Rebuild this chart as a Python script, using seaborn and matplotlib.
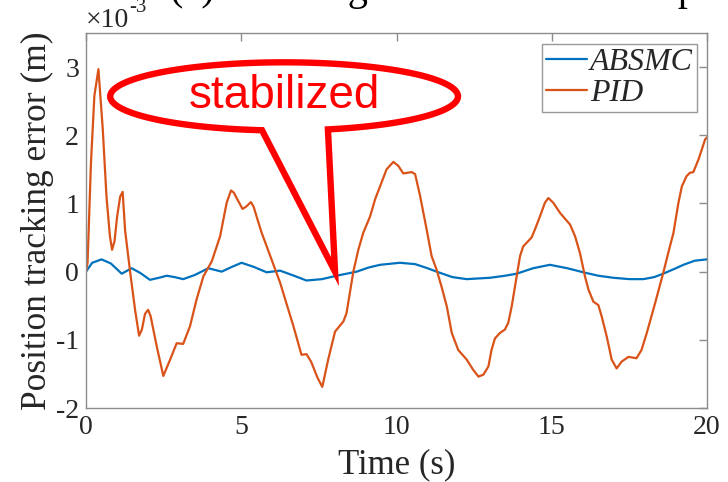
import numpy as np
import pandas as pd
import matplotlib
matplotlib.use("Agg")
import matplotlib.pyplot as plt
from matplotlib.patches import Polygon
from matplotlib.ticker import FuncFormatter
import seaborn as sns

# Sample times (s) and tracking errors (x 1e-3 m)
pid_t = [0.0, 0.05, 0.16, 0.27, 0.40, 0.54, 0.66, 0.77, 0.84, 0.92, 1.00, 1.10,
         1.18, 1.26, 1.42, 1.58, 1.71, 1.80, 1.90, 2.00, 2.08, 2.28, 2.49, 2.71,
         2.92, 3.13, 3.35, 3.56, 3.78, 4.05, 4.32, 4.53, 4.67, 4.76, 4.85, 5.04,
         5.15, 5.31, 5.40, 5.50, 5.65, 5.82, 6.25, 6.68, 6.94, 7.10, 7.25, 7.45,
         7.61, 7.80, 8.02, 8.29, 8.39, 8.61, 8.77, 8.93, 9.15, 9.31, 9.47, 9.68,
         9.90, 10.06, 10.22, 10.49, 10.60, 10.76, 10.97, 11.13, 11.29, 11.45,
         11.62, 11.78, 11.99, 12.26, 12.47, 12.64, 12.80, 12.96, 13.06, 13.17,
         13.33, 13.49, 13.60, 13.71, 13.87, 13.98, 14.08, 14.35, 14.46, 14.62,
         14.78, 14.89, 15.05, 15.27, 15.59, 15.75, 15.91, 16.07, 16.18, 16.34,
         16.50, 16.61, 16.77, 16.93, 17.09, 17.25, 17.47, 17.73, 17.89, 18.06,
         18.33, 18.59, 18.75, 18.92, 19.08, 19.19, 19.34, 19.45, 19.56, 19.73,
         19.94, 20.0]
pid_err = [0.0, 0.13, 1.60, 2.58, 2.97, 2.09, 1.10, 0.52, 0.32, 0.45, 0.80, 1.10,
           1.17, 0.60, 0.00, -0.56, -0.94, -0.85, -0.62, -0.56, -0.65, -1.10,
           -1.53, -1.29, -1.05, -1.06, -0.80, -0.41, -0.07, 0.15, 0.52, 1.01,
           1.19, 1.16, 1.08, 0.92, 0.95, 1.02, 0.95, 0.80, 0.58, 0.37, -0.16,
           -0.80, -1.22, -1.21, -1.32, -1.55, -1.69, -1.29, -0.88, -0.73, -0.61,
           0.00, 0.32, 0.57, 0.81, 1.06, 1.25, 1.50, 1.61, 1.55, 1.44, 1.46, 1.43,
           1.11, 0.62, 0.23, 0.03, -0.22, -0.51, -0.90, -1.15, -1.29, -1.44,
           -1.54, -1.51, -1.39, -1.15, -0.98, -0.90, -0.85, -0.75, -0.51, -0.07,
           0.23, 0.37, 0.50, 0.62, 0.81, 1.01, 1.08, 1.01, 0.86, 0.69, 0.52, 0.27,
           -0.07, -0.26, -0.44, -0.49, -0.66, -0.95, -1.29, -1.42, -1.32, -1.25,
           -1.27, -1.15, -0.90, -0.46, -0.02, 0.27, 0.57, 1.01, 1.25, 1.40, 1.45,
           1.46, 1.65, 1.94, 1.97]

absmc_t = [0.0, 0.2, 0.5, 0.8, 1.15, 1.47, 1.75, 2.06, 2.35, 2.6, 2.85, 3.13,
           3.5, 3.94, 4.37, 4.7, 5.01, 5.4, 5.82, 6.25, 6.7, 7.1, 7.6, 8.07,
           8.72, 9.1, 9.47, 10.11, 10.6, 11.0, 11.29, 11.8, 12.26, 13.01, 13.5,
           13.87, 14.4, 14.94, 15.5, 16.02, 16.5, 16.98, 17.5, 17.95, 18.3,
           18.59, 19.0, 19.24, 19.6, 20.0]
absmc_err = [0.0, 0.13, 0.18, 0.12, -0.03, 0.05, -0.02, -0.12, -0.09, -0.06,
             -0.08, -0.11, -0.05, 0.05, 0.0, 0.07, 0.13, 0.07, -0.01, 0.015,
             -0.06, -0.13, -0.11, -0.06, 0.0, 0.06, 0.10, 0.13, 0.11, 0.05, 0.0,
             -0.08, -0.11, -0.09, -0.06, -0.03, 0.05, 0.10, 0.05, -0.01, -0.06,
             -0.09, -0.11, -0.11, -0.08, -0.03, 0.05, 0.10, 0.16, 0.18]

methods = ["ABSMC", "PID"]
colors = ["#0072BD", "#D95319"]
x_ticks = [0, 5, 10, 15, 20]
y_ticks = [-2e-3, -1e-3, 0, 1e-3, 2e-3, 3e-3]

df = pd.concat([
    pd.DataFrame({"Time": absmc_t, "Error": np.array(absmc_err) * 1e-3, "Method": "ABSMC"}),
    pd.DataFrame({"Time": pid_t, "Error": np.array(pid_err) * 1e-3, "Method": "PID"}),
], ignore_index=True)

sns.set_theme(style="white")
plt.rcParams["font.family"] = ["Liberation Serif", "DejaVu Serif"]
plt.rcParams["axes.unicode_minus"] = False

W, H = 728, 482
fig = plt.figure(figsize=(W / 100, H / 100), dpi=100)
ax = fig.add_axes([86 / W, 1 - 408 / H, (707 - 86) / W, (408 - 33) / H])

sns.lineplot(data=df, x="Time", y="Error", hue="Method", hue_order=methods,
             palette=colors, estimator=None, linewidth=1.6, ax=ax)

ax.set_xlim(0, 20)
ax.set_ylim(-2e-3, 3.5e-3)
ax.set_xticks(x_ticks)
ax.set_yticks(y_ticks)

# Tick labels in units of 1e-3 m, with the exponent written above the axis
ax.yaxis.set_major_formatter(FuncFormatter(lambda v, p: f"{v * 1e3:g}"))
ink = "#262626"
exp_base = ax.text(0.0, 1.0, "\u00d710", transform=ax.transAxes, fontsize=20,
                   color=ink, ha="left", va="bottom")
ax.annotate("-3", xy=(1.0, 0.62), xycoords=exp_base, fontsize=15, color=ink,
            ha="left", va="bottom")

spine_gray = "#8c8c8c"
for s in ax.spines.values():
    s.set_color(spine_gray)
    s.set_linewidth(1.0)
ax.tick_params(direction="in", length=6, width=1, color=spine_gray,
               top=True, right=True, labelsize=20, labelcolor=ink, pad=5)

ax.set_xlabel("Time (s)", fontsize=25, color=ink)
ax.set_ylabel("Position tracking error (m)", fontsize=25.5, color=ink)
ax.xaxis.set_label_coords(0.5, -0.108)
ax.yaxis.set_label_coords(-0.052, 0.5)

leg = ax.legend(loc="upper right", bbox_to_anchor=(0.984, 0.971), borderaxespad=0,
                frameon=True, fancybox=False, framealpha=1, edgecolor="#999999",
                prop={"style": "italic", "size": 23}, handlelength=1.3,
                handletextpad=0.1, borderpad=0.12, labelspacing=0.05)
leg.get_frame().set_linewidth(1.0)

# Speech-bubble callout pointing at the ABSMC curve
cx, cy, a, b = 6.38, 2.57, 5.6, 0.5
phi = np.deg2rad(np.linspace(262.7, -75.4, 200))
bx = cx + a * np.cos(phi)
by = (cy + b * np.sin(phi)) * 1e-3
tip = (8.02, 0.0)
verts = [tip] + list(zip(bx, by))
bubble = Polygon(verts, closed=True, fill=False, edgecolor="#ff0000",
                 linewidth=4.6, joinstyle="miter", clip_on=False, zorder=5)
ax.add_patch(bubble)
ax.text(cx, cy * 1e-3, "stabilized", color="#ff0000", fontsize=33,
        family="Liberation Sans", ha="center", va="center", zorder=6)

# Panel caption running off the top edge of the figure
fig.text(170 / W, 1.0, "(a) Tracking error of the x-axis position",
         fontsize=29, ha="left", va="baseline", color="black")

fig.savefig("out.png", dpi=100)
